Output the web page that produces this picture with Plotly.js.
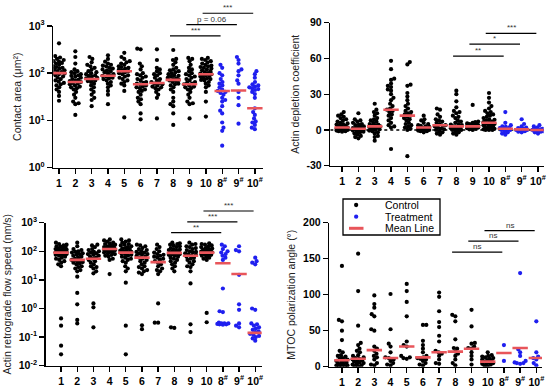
<!DOCTYPE html>
<html><head><meta charset="utf-8">
<script src="https://cdn.plot.ly/plotly-3.0.1.min.js"></script>
<style>html,body{margin:0;padding:0;background:#fff}#chart{width:554px;height:387px}</style>
</head><body><div id="chart"></div>
<script>
// ---------- categories & tick labels ----------
const categories = ['1','2','3','4','5','6','7','8','9','10','8#','9#','10#'];
const xTickText = ['1','2','3','4','5','6','7','8','9','10','8<sup>#</sup>','9<sup>#</sup>','10<sup>#</sup>'];
const treatmentFrom = 10; // 8#, 9#, 10# are Treatment
const logTickVals = [0.01, 0.1, 1, 10, 100, 1000];
const logTickText = ['10<sup>-2</sup>','10<sup>-1</sup>','10<sup>0</sup>','10<sup>1</sup>','10<sup>2</sup>','10<sup>3</sup>'];
const depletionTicks = [-30, 0, 30, 60, 90];
const mtocTicks = [0, 50, 100, 150, 200];

// ---------- Contact area (µm²) ----------
const contactArea = [
  [430,230,215,200,190,180,175,165,160,150,140,135,130,125,120,115,110,105,100,98,95,90,85,80,75,70,66,62,58,55,50,45,40,33,26],
  [290,220,160,120,110,105,100,95,90,88,85,80,75,72,70,68,65,62,60,58,55,52,50,48,45,40,35,30,25,23,22,13],
  [220,200,170,150,140,130,120,110,105,100,95,90,88,85,80,78,75,72,70,68,65,60,55,50,45,40,35,30,27,20],
  [240,200,175,160,150,145,140,130,125,120,115,110,105,100,95,90,88,85,80,78,75,70,65,60,55,50,42,35,22],
  [270,220,200,180,170,160,150,140,135,130,125,120,115,110,105,100,95,90,85,80,75,70,65,60,55,42,11.5],
  [330,320,160,140,120,100,95,90,85,80,75,70,65,62,60,58,55,52,50,48,45,42,40,35,30,28,25,22,14,10.5],
  [320,190,130,120,110,100,95,90,80,75,70,65,62,60,58,55,52,50,48,45,40,35,30,11],
  [310,200,190,170,150,130,120,115,110,105,100,95,90,88,85,80,78,75,72,70,68,65,60,58,55,50,45,40,30,25,22,20,14,8],
  [210,200,180,150,130,120,110,100,95,90,85,80,75,70,65,62,60,58,55,52,50,48,45,40,35,30,25,23,22,11],
  [210,200,190,180,170,160,150,145,140,135,130,125,120,115,110,105,100,98,95,92,90,88,85,80,78,75,72,70,65,60,55,50,40,25,12],
  [150,130,100,90,75,65,60,55,50,45,42,40,38,35,30,27,25,20,16,14,9,7,6,2.9],
  [220,190,160,120,110,90,70,60,40,30,21,8.5],
  [110,95,80,65,58,55,52,50,48,46,44,40,36,30,18,15,13,11,9.5,9,8,7,6.5]
];
const contactAreaMean = [100,65,75,88,110,58,62,72,58,95,42,43,18];
const contactAreaSig = ['***','p = 0.06','***'];

// ---------- Actin depletion coefficient ----------
const depletion = [
  [15,13,12,11,10,9,8,7,6,5.5,5,4.5,4,3.5,3,2.5,2,2,1.5,1,1,0.5,0.5,0,0,0,-0.5,-1,-1,-1.5],
  [14,9,8,7,6,5,4.5,4,3,2.5,2,1.5,1,0.5,0,0,-0.5,-1,-1.5,-2,-3,-4,-5,-6,-7],
  [22,17,15,14,12,10,9,8,7,6,5,4.5,4,3.5,3,2.5,2,1.5,1,0.5,0,-0.5,-1,-2,-3,-5,-6,-9],
  [58,51,43,42,39,37,36,34,33,30,27,25,22,20,18,17,16,15,13,12,10,8,6,4,3,2,-16],
  [57,55,38,37,31,28,25,22,20,18,16,15,14,13,12,11,10,9,8,6,5,4,3,2,1,0,-22],
  [12,9,8,6,5,4,3.5,3,2.5,2,1.5,1,1,0.5,0,0,-0.5,-1,-1,-2],
  [18,17,13,11,9,8,7,6,5,4,3.5,3,2,1,0.5,0,-1,-2,-3,-4],
  [33,30,24,19,16,15,14,12,11,10,8,7,6,5,4.5,4,3,2.5,2,1.5,1,0.5,0,0,-1,-2,-3,-4],
  [21,7,6.5,6,5.5,5,5,4.5,4,4,3.5,3,3,2.5,2,2,1.5,1,0.5,0],
  [31,27,23,20,18,16,15,14,13,12,11,10,9,8.5,8,7,6.5,6,5.5,5,4.5,4,3.5,3,2.5,2,1.5,1,0.5,0,0,0],
  [15,6,4,3,2.5,2,1.5,1,0.5,0,0,-1,-2,-3,-4],
  [9,5,3,2,1.5,1,0.5,0,0,-1,-1.5,-2],
  [4,3,2,1,0.5,0,0,-0.5,-1,-1.5,-2,-3]
];
const depletionMean = [2,1,3,17,12,2,4,3,3,6,1,0.5,0];
const depletionSig = ['**','*','***'];

// ---------- Actin retrograde flow speed (nm/s) ----------
const flowSpeed = [
  [200,180,170,160,150,145,140,130,125,120,115,110,105,100,98,95,92,90,88,85,82,80,78,75,70,65,60,55,50,45,40,35,30,0.45,0.25,0.05,0.025],
  [200,150,120,110,100,95,90,85,80,75,70,65,60,55,50,48,45,42,40,38,35,30,28,25,22,20,13,3.5,1.4,0.4,0.3],
  [170,160,140,120,110,100,95,90,85,80,75,70,65,60,55,50,45,40,35,30,28,25,20,17,1.5,1.1,0.22],
  [260,240,220,200,190,180,170,160,150,145,140,135,130,125,120,115,110,105,100,95,90,85,80,75,70,65,55,50,16],
  [260,240,220,200,180,170,160,150,140,130,125,120,110,105,100,95,90,85,80,75,70,65,60,55,50,45,40,30,25,20,8,0.25,0.025],
  [170,160,150,130,120,110,100,95,90,85,80,75,70,65,60,55,50,45,40,35,30,28,25,22,20,18,16,0.26,0.19],
  [170,140,120,100,90,80,75,70,65,60,55,50,45,40,35,30,25,22,20,16,1.5,0.32,0.32],
  [200,190,180,170,160,150,140,130,120,115,110,105,100,95,90,88,85,80,78,75,70,65,60,55,50,45,40,35,30,25,20,0.22,0.21],
  [200,180,170,150,140,130,120,110,100,95,90,85,80,75,70,65,60,55,50,45,40,35,30,28,20,7.5,0.28,0.15],
  [190,180,170,160,150,140,130,125,120,115,110,105,100,98,95,92,90,88,85,82,80,78,75,70,65,60,55,50,0.7,0.33],
  [170,150,120,100,90,80,70,60,50,5,0.8,0.75,0.32,0.3,0.3,0.29,0.28,0.28,0.27,0.3],
  [150,110,100,15,1.4,0.9,0.3,0.25,0.22],
  [60,45,40,35,1.0,0.9,0.3,0.28,0.25,0.22,0.2,0.18,0.16,0.15,0.13,0.12,0.11,0.1,0.09,0.075]
];
const flowSpeedMean = [90,50,55,120,90,60,42,88,70,90,38,16,0.14];
const flowSpeedSig = ['**','***','***'];

// ---------- MTOC polarization angle (°) ----------
const mtocAngle = [
  [140,65,63,50,37,22,20,16,15,14,12,11,10,9,8,7,6,5,4,3,2,2,1,1,0.5],
  [157,105,57,33,30,25,22,20,16,15,13,12,11,10,9,8,7,6,5,4,3,2,1,1],
  [99,87,82,73,70,52,50,28,25,22,18,15,13,10,5,3,2],
  [101,52,32,28,20,13,12,10,8,5,3,2],
  [115,105,90,70,35,30,28,15,13,12,11],
  [58,58,36,30,25,20,15,13,12,11,10,8,5,3,2],
  [103,97,77,62,55,43,35,22,20,18,15,10,5,4],
  [72,70,63,38,26,25,21,18,15,10,5,2],
  [79,56,33,32,28,26,25,20,15,10,3],
  [20,16,15,14,13,12,11,10,9,8,7,6,5,5,4,3,2,1],
  [30,8],
  [130,24,20,15,8,6,5,5,4],
  [63,20,14,12,10,5,2]
];
const mtocAngleMean = [9,11,23,12,28,13,20,21,25,7,19,26,12];
const mtocAngleSig = ['ns','ns','ns'];

// comparisons drawn above each panel (group index pairs)
const sigPairs = [[7,10],[8,11],[9,12]];
const legendLabels = ['Control','Treatment','Mean Line'];

// ---------- styling / layout config ----------
const W = 554, H = 387;
const FONT = 'Liberation Sans, Arial, sans-serif';
const C_CTRL = '#000000', C_TRT = '#1f1fef', C_MEAN = '#e8555a';

const panels = [
  {data: contactArea, mean: contactAreaMean, sig: contactAreaSig, sigLevels: [617, 1072, 1862],
   xa:'x', ya:'y', log:true, xpx:[53.3,263], ypx:[26,167.5], xr:[-0.35,12.5], yr:[0,3],
   tv: logTickVals.slice(2), tt: logTickText.slice(2), title:'Contact area (μm²)'},
  {data: depletion, mean: depletionMean, sig: depletionSig, sigLevels: [62, 72, 81],
   xa:'x2', ya:'y2', log:false, xpx:[330.3,543.7], ypx:[22.7,165.7], xr:[-0.72,12.35], yr:[-30,90],
   tv: depletionTicks, tt: depletionTicks.map(String), title:'Actin depletion coefficient'},
  {data: flowSpeed, mean: flowSpeedMean, sig: flowSpeedSig, sigLevels: [447, 1072, 2570],
   xa:'x3', ya:'y3', log:true, xpx:[45.7,261.7], ypx:[222.7,365.7], xr:[-0.95,12.4], yr:[-2,3],
   tv: logTickVals, tt: logTickText, title:'Actin retrograde flow speed (nm/s)'},
  {data: mtocAngle, mean: mtocAngleMean, sig: mtocAngleSig, sigLevels: [159, 174.5, 189],
   xa:'x4', ya:'y4', log:false, xpx:[329.3,542], ypx:[222.7,366.7], xr:[-0.78,12.35], yr:[0,200],
   tv: mtocTicks, tt: mtocTicks.map(String), title:'MTOC polarization angle (°)'}
];

// beeswarm offsets (pixels) computed from the values; overlap allowed when the column is full
function swarmOffsets(ys, diam, maxHalf) {
  const order = ys.map((y,i)=>i).sort((a,b)=>ys[a]-ys[b]);
  const placed = [];
  const off = new Array(ys.length).fill(0);
  let flip = 1;
  order.forEach(i => {
    const y = ys[i];
    const near = placed.filter(q => Math.abs(q.y - y) < diam);
    const cands = [0];
    near.forEach(q => {
      const d = Math.sqrt(Math.max(0, diam*diam - (q.y-y)*(q.y-y)));
      cands.push(q.x + d*flip, q.x - d*flip);
    });
    flip = -flip;
    cands.sort((a,b)=>Math.abs(a)-Math.abs(b));
    let best = null;
    for (const c of cands) {
      if (Math.abs(c) > maxHalf + 1e-9) continue;
      if (near.every(q => (q.x-c)*(q.x-c) + (q.y-y)*(q.y-y) >= diam*diam - 1e-6)) { best = c; break; }
    }
    if (best === null) {
      let bestScore = -1;
      for (let c = -maxHalf; c <= maxHalf + 1e-9; c += 0.5) {
        const score = Math.min(...near.map(q => (q.x-c)*(q.x-c) + (q.y-y)*(q.y-y)));
        if (score > bestScore + 1e-9) { bestScore = score; best = c; }
      }
    }
    placed.push({x: best, y}); off[i] = best;
  });
  return off;
}

const traces = [], shapes = [], annotations = [];
const layout = {
  width: W, height: H, margin: {l:0, r:0, t:0, b:0},
  paper_bgcolor: '#fff', plot_bgcolor: 'rgba(0,0,0,0)', showlegend: false,
  font: {family: FONT, color: '#000'}
};

panels.forEach((p, pi) => {
  const xd = [p.xpx[0]/W, p.xpx[1]/W];
  const yd = [1 - p.ypx[1]/H, 1 - p.ypx[0]/H];
  const wpx = p.xpx[1]-p.xpx[0], hpx = p.ypx[1]-p.ypx[0];
  const pxPerCat = wpx/(p.xr[1]-p.xr[0]);
  const tf = v => p.log ? Math.log10(v) : v;
  const toPx = v => (tf(v) - p.yr[0])/(p.yr[1]-p.yr[0])*hpx;
  const xs = {c: [], t: []}, ys = {c: [], t: []};
  p.data.forEach((grp, gi) => {
    const off = swarmOffsets(grp.map(toPx), 3.4, 5.5);
    const k = gi >= treatmentFrom ? 't' : 'c';
    grp.forEach((v, j) => { xs[k].push(gi + off[j]/pxPerCat); ys[k].push(v); });
  });
  traces.push({type:'scatter', mode:'markers', x: xs.c, y: ys.c, xaxis: p.xa, yaxis: p.ya,
    name: legendLabels[0], marker: {color: C_CTRL, size: 4.2}, hoverinfo: 'y'});
  traces.push({type:'scatter', mode:'markers', x: xs.t, y: ys.t, xaxis: p.xa, yaxis: p.ya,
    name: legendLabels[1], marker: {color: C_TRT, size: 4.2}, hoverinfo: 'y'});
  traces.push({type:'scatter', mode:'markers', x: categories.map((c,i)=>i), y: p.mean, xaxis: p.xa, yaxis: p.ya,
    name: legendLabels[2], marker: {symbol: 'line-ew', size: 11, line: {color: C_MEAN, width: 2.6}}, hoverinfo: 'y'});

  const xk = 'xaxis' + (pi ? pi+1 : ''), yk = 'yaxis' + (pi ? pi+1 : '');
  const common = {showgrid:false, zeroline:false, showline:true, linecolor:'#000', linewidth:1.6,
    ticks:'outside', ticklen:5, tickwidth:1.4, tickcolor:'#000', automargin:false, fixedrange:true,
    tickfont: {family: FONT, size: 10.5, color: '#000', weight: 'bold'}};
  layout[xk] = Object.assign({}, common, {domain: xd, range: p.xr, anchor: p.ya,
    tickmode:'array', tickvals: categories.map((c,i)=>i), ticktext: xTickText});
  layout[yk] = Object.assign({}, common, {domain: yd, anchor: p.xa,
    type: p.log ? 'log' : 'linear', range: p.yr, tickmode:'array', tickvals: p.tv, ticktext: p.tt,
    title: {text: p.title, font: {family: FONT, size: 10.5, color: '#222'}, standoff: 5}});

  // significance bars and labels (paper coordinates so they may sit above the axes)
  const xPaper = i => xd[0] + (i - p.xr[0])/(p.xr[1]-p.xr[0])*(xd[1]-xd[0]);
  const yPaper = v => yd[0] + (tf(v) - p.yr[0])/(p.yr[1]-p.yr[0])*(yd[1]-yd[0]);
  sigPairs.forEach((pr, si) => {
    const a = pr[0] - 0.2, b = pr[1] - 0.1, yy = yPaper(p.sigLevels[si]);
    shapes.push({type:'line', xref:'paper', yref:'paper', x0: xPaper(a), x1: xPaper(b), y0: yy, y1: yy,
      line: {color:'#000', width: 1.2}});
    annotations.push({xref:'paper', yref:'paper', x: xPaper((a+b)/2), y: yy, text: p.sig[si],
      showarrow:false, xanchor:'center', yanchor:'bottom', yshift: -1, font: {family: FONT, size: 8, color: '#333'}});
  });
});

// dotted zero line in the depletion panel
shapes.push({type:'line', xref:'x2', yref:'y2', x0: panels[1].xr[0], x1: panels[1].xr[1], y0: 0, y1: 0,
  line: {color:'#000', width: 1.4, dash:'dot'}, layer:'below'});

// legend box (drawn manually for compact spacing)
const px = x => x/W, py = y => 1 - y/H;
shapes.push({type:'rect', xref:'paper', yref:'paper', x0: px(343), x1: px(440), y0: py(235), y1: py(199),
  line: {color:'#000', width: 1.3}});
const legY = [205, 216.7, 228.3];
shapes.push({type:'circle', xref:'paper', yref:'paper', x0: px(354), x1: px(358.3), y0: py(legY[0]+2.15), y1: py(legY[0]-2.15),
  fillcolor: C_CTRL, line: {width: 0}});
shapes.push({type:'circle', xref:'paper', yref:'paper', x0: px(354), x1: px(358.3), y0: py(legY[1]+2.15), y1: py(legY[1]-2.15),
  fillcolor: C_TRT, line: {width: 0}});
shapes.push({type:'line', xref:'paper', yref:'paper', x0: px(349), x1: px(363.5), y0: py(legY[2]), y1: py(legY[2]),
  line: {color: C_MEAN, width: 3}});
legendLabels.forEach((t, i) => annotations.push({xref:'paper', yref:'paper', x: px(383), y: py(legY[i]), text: t,
  showarrow:false, xanchor:'left', yanchor:'middle', font: {family: FONT, size: 10.5, color: '#000'}}));

layout.shapes = shapes;
layout.annotations = annotations;
Plotly.newPlot('chart', traces, layout, {displayModeBar: false, staticPlot: true});
</script>
</body></html>
